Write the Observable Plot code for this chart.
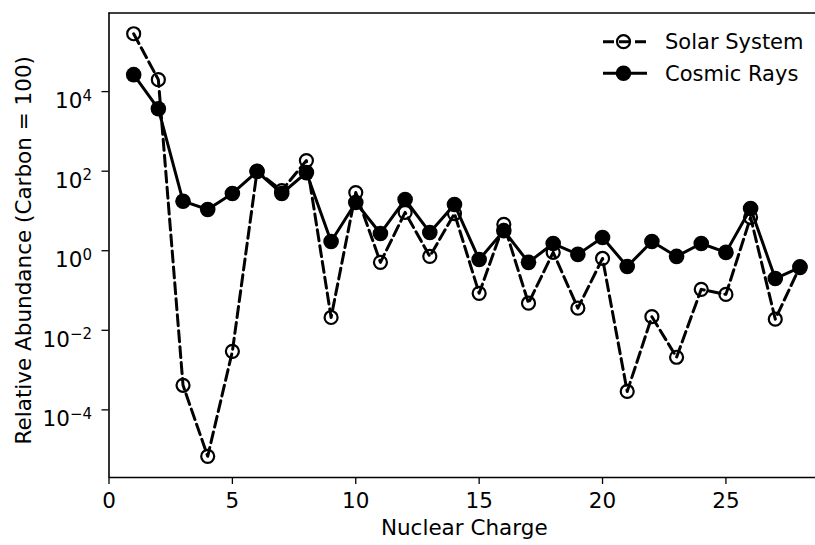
<!DOCTYPE html>
<html>
<head>
<meta charset="utf-8">
<script src="https://cdn.jsdelivr.net/npm/d3@7"></script>
<script src="https://cdn.jsdelivr.net/npm/@observablehq/plot@0.6"></script>
<style>
  html, body { margin: 0; padding: 0; background: #fff; }
  #wrap { position: relative; width: 815px; height: 545px; overflow: hidden; font-family: "DejaVu Sans", sans-serif; }
  #legend { position: absolute; left: 590px; top: 20px; }
</style>
</head>
<body>
<div id="wrap"></div>
<script>
// Nuclear charge Z
const charge = [1,2,3,4,5,6,7,8,9,10,11,12,13,14,15,16,17,18,19,20,21,22,23,24,25,26,27,28];
// Relative abundance (Carbon = 100)
const solarSystem = [2.85e5, 2.0e4, 4.15e-4, 6.8e-6, 2.96e-3, 100, 32.6, 185, 0.021, 29, 0.51, 9.2, 0.72, 8.6, 0.085, 4.6, 0.048, 0.91, 0.036, 0.64, 2.9e-4, 0.022, 2.1e-3, 0.107, 0.08, 6.9, 0.019, 0.40];
const cosmicRays = [2.67e4, 3.7e3, 17.6, 10.9, 27.5, 98, 27.5, 92, 1.71, 16.3, 2.72, 19.4, 2.88, 14.5, 0.6, 3.2, 0.51, 1.52, 0.81, 2.16, 0.40, 1.71, 0.72, 1.52, 0.91, 11.5, 0.20, 0.38];
const seriesNames = ["Solar System", "Cosmic Rays"];
const xTicks = [0, 5, 10, 15, 20, 25];
const yTicks = [1e-4, 1e-2, 1, 1e2, 1e4];
const xDomain = [0, 28.63];
const yDomain = [Math.pow(10, -5.70), Math.pow(10, 5.976)];
const xLabel = "Nuclear Charge";
const yLabel = "Relative Abundance (Carbon = 100)";

const solarData = charge.map((z, i) => ({z, v: solarSystem[i]}));
const cosmicData = charge.map((z, i) => ({z, v: cosmicRays[i]}));

const FS = 21.5;

const chart = Plot.plot({
  width: 815,
  height: 545,
  marginLeft: 108.5,
  marginRight: 0,
  marginTop: 12.5,
  marginBottom: 68,
  style: {fontFamily: "DejaVu Sans", fontSize: FS + "px", color: "#000", background: "#fff"},
  x: {domain: xDomain, ticks: xTicks},
  y: {type: "log", domain: yDomain, ticks: yTicks},
  marks: [
    Plot.axisX({ticks: xTicks, tickSize: 7, tickPadding: 8, strokeWidth: 1.3, label: null, fontSize: FS}),
    Plot.axisY({ticks: yTicks, tickSize: 7, tickPadding: 10, strokeWidth: 1.3, label: null, fontSize: FS,
      tickFormat: d => "10^" + Math.round(Math.log10(d))}),
    Plot.text([xLabel], {frameAnchor: "bottom", dy: 51, lineAnchor: "middle", textAnchor: "middle", fontSize: FS, text: d => d, dx: 2}),
    Plot.text([yLabel], {frameAnchor: "left", dx: -84.5, dy: 5, rotate: -90, lineAnchor: "middle", textAnchor: "middle", fontSize: FS, text: d => d}),
    Plot.ruleX([xDomain[0]], {stroke: "#000", strokeWidth: 1.6}),
    Plot.ruleY([yDomain[0]], {stroke: "#000", strokeWidth: 1.6}),
    Plot.ruleY([yDomain[1]], {stroke: "#000", strokeWidth: 1.6}),
    Plot.line(solarData, {x: "z", y: "v", stroke: "#000", strokeWidth: 3, strokeDasharray: "11,5"}),
    Plot.dot(solarData, {x: "z", y: "v", r: 6.5, stroke: "#000", strokeWidth: 2.2, fill: "none"}),
    Plot.line(cosmicData, {x: "z", y: "v", stroke: "#000", strokeWidth: 3}),
    Plot.dot(cosmicData, {x: "z", y: "v", r: 7.8, fill: "#000", stroke: "none"})
  ]
});

// mathtext-style superscripts on log tick labels
chart.querySelectorAll("text").forEach(t => {
  const s = t.textContent;
  const m = /^10\^(-?\d+)$/.exec(s);
  if (!m) return;
  const e = m[1].replace("-", "\u2212");
  t.textContent = "";
  const base = document.createElementNS("http://www.w3.org/2000/svg", "tspan");
  base.textContent = "10";
  const sup = document.createElementNS("http://www.w3.org/2000/svg", "tspan");
  sup.textContent = e;
  sup.setAttribute("font-size", "15px");
  sup.setAttribute("dy", "-7.5");
  t.appendChild(base);
  t.appendChild(sup);
  t.setAttribute("dy", "9.5");
});

document.getElementById("wrap").appendChild(chart);

// legend
const ns = "http://www.w3.org/2000/svg";
const leg = document.createElementNS(ns, "svg");
leg.setAttribute("id", "legend");
leg.setAttribute("width", "225");
leg.setAttribute("height", "70");
const rows = [
  {name: seriesNames[0], y: 21.7, dash: true, open: true},
  {name: seriesNames[1], y: 53.3, dash: false, open: false}
];
rows.forEach(r => {
  const ln = document.createElementNS(ns, "line");
  ln.setAttribute("x1", 13); ln.setAttribute("x2", 57);
  ln.setAttribute("y1", r.y); ln.setAttribute("y2", r.y);
  ln.setAttribute("stroke", "#000"); ln.setAttribute("stroke-width", 3);
  if (r.dash) ln.setAttribute("stroke-dasharray", "11,5");
  leg.appendChild(ln);
  const c = document.createElementNS(ns, "circle");
  c.setAttribute("cx", 33.5); c.setAttribute("cy", r.y);
  if (r.open) { c.setAttribute("r", 6.5); c.setAttribute("fill", "none"); c.setAttribute("stroke", "#000"); c.setAttribute("stroke-width", 2.2); }
  else { c.setAttribute("r", 7.8); c.setAttribute("fill", "#000"); }
  leg.appendChild(c);
  const tx = document.createElementNS(ns, "text");
  tx.setAttribute("x", 75); tx.setAttribute("y", r.y);
  tx.setAttribute("dy", "0.35em");
  tx.setAttribute("font-size", "21px");
  tx.setAttribute("font-family", "DejaVu Sans");
  tx.textContent = r.name;
  leg.appendChild(tx);
});
document.getElementById("wrap").appendChild(leg);
</script>
</body>
</html>
